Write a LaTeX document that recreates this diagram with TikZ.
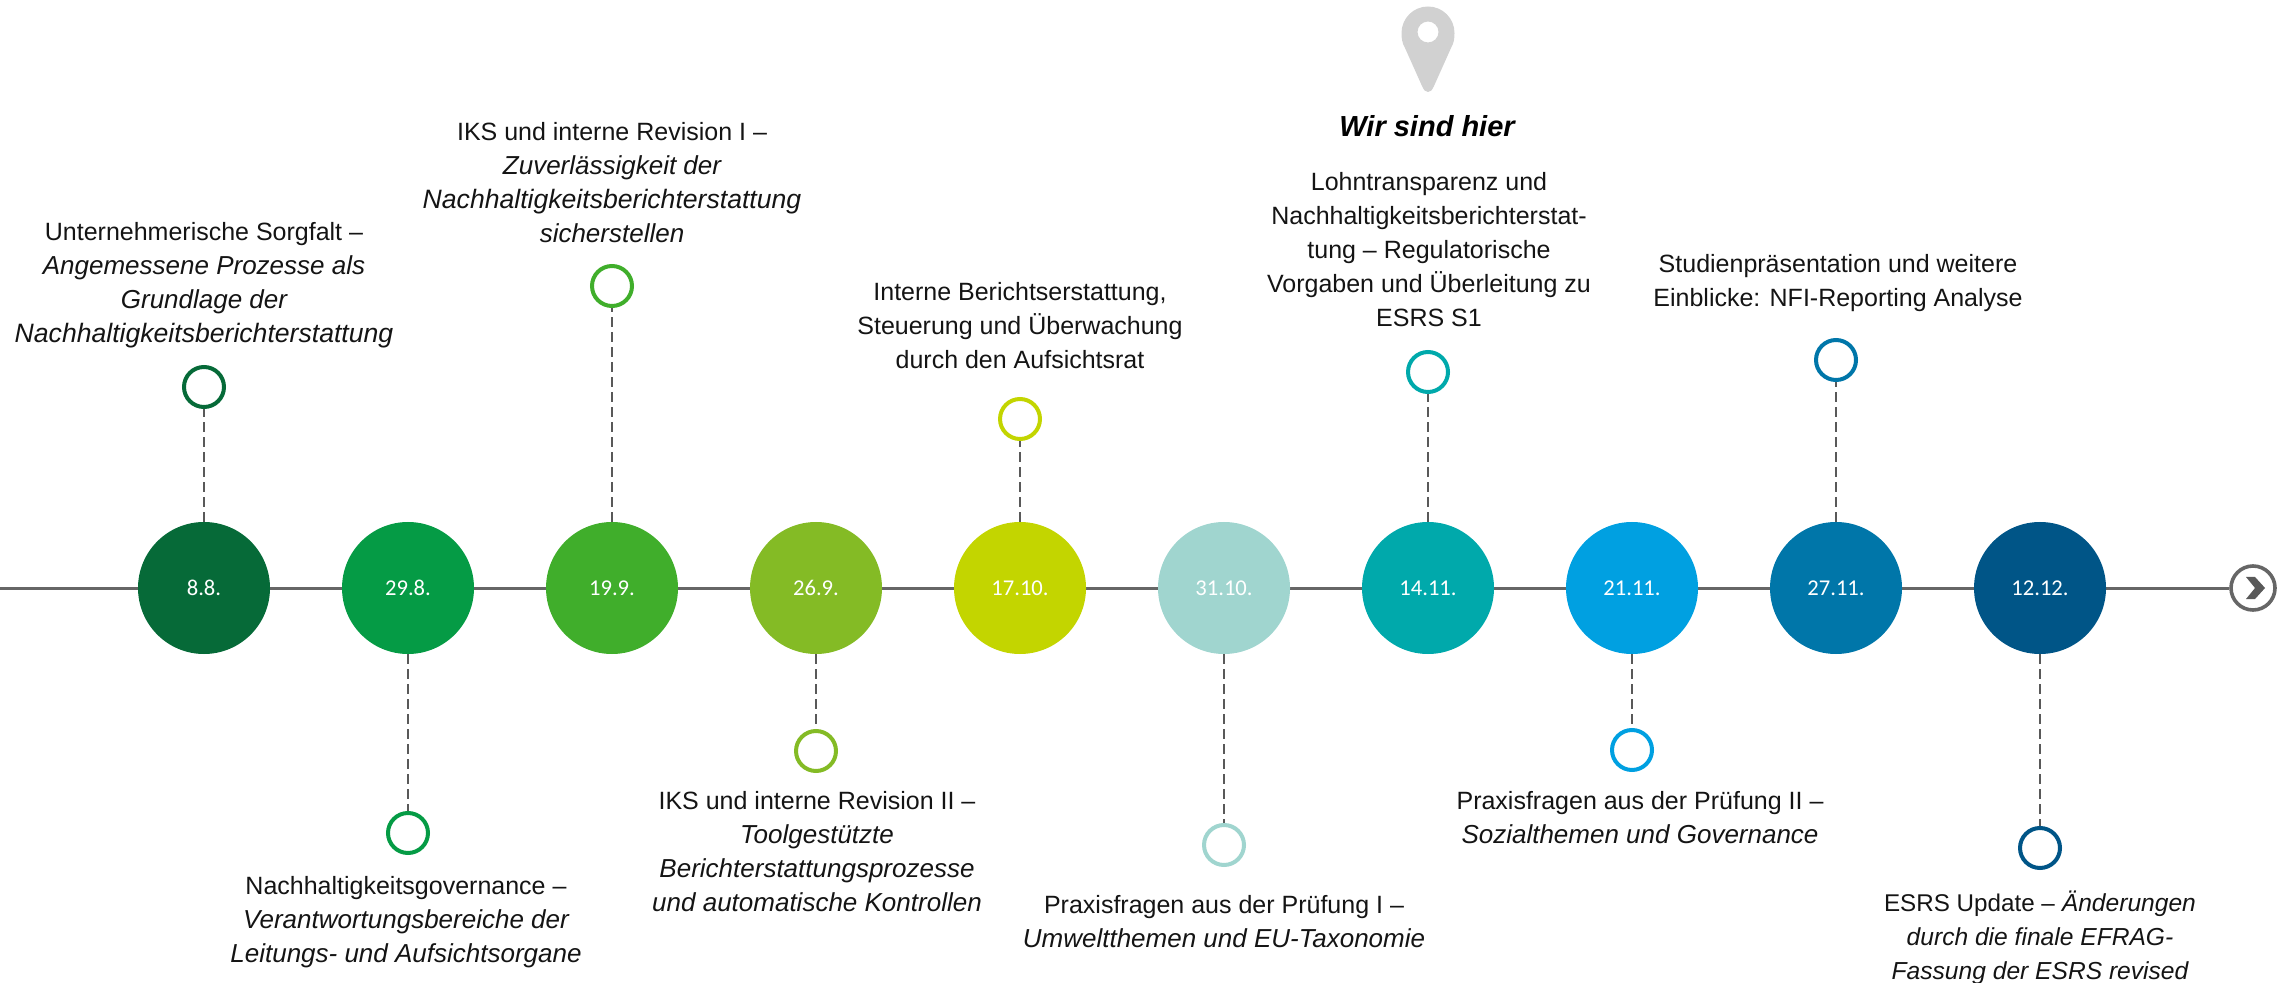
\documentclass[tikz,border=0pt]{standalone}
\usepackage{fontspec}
\setmainfont{Liberation Sans}
\newfontfamily\datefont{Carlito}
\definecolor{c1}{HTML}{066A38}
\definecolor{c2}{HTML}{059B45}
\definecolor{c3}{HTML}{40AE2B}
\definecolor{c4}{HTML}{84BB25}
\definecolor{c5}{HTML}{C3D500}
\definecolor{c6}{HTML}{A0D5CF}
\definecolor{c7}{HTML}{00A9AB}
\definecolor{c8}{HTML}{00A0E1}
\definecolor{c9}{HTML}{0076A9}
\definecolor{c10}{HTML}{005587}
\definecolor{linegray}{HTML}{666666}
\definecolor{stemgray}{HTML}{595959}
\newcommand{\il}[1]{{\fontsize{13}{17}\selectfont\itshape #1}}
\newcommand{\ill}[1]{{\fontsize{13.3}{17}\selectfont\itshape #1}}
\newcommand{\ils}[1]{{\fontsize{12.3}{17}\selectfont\itshape #1}}
\tikzset{
 bigdot/.style={circle,fill=#1,minimum size=66pt,inner sep=0pt,text=white,font=\datefont\fontsize{11.3}{13}\selectfont},
 smalldot/.style={circle,draw=#1,fill=white,line width=2pt,minimum size=20pt,inner sep=0pt},
 stem/.style={draw=stemgray,line width=1pt,dash pattern=on 5pt off 2.5pt},
 label/.style={align=center,inner sep=0pt,font=\fontsize{12.5}{17}\selectfont,text=black!92}
}
\begin{document}
\begin{tikzpicture}[x=0.5pt,y=-0.5pt]
\useasboundingbox (0,0) rectangle (2280,983);
\coordinate (start) at (0,588);
\node[circle,draw=linegray,line width=1.8pt,fill=white,minimum size=22pt,inner sep=0pt] (arrow) at (2253,588) {};
\draw[linegray,line width=1.5pt] (start) -- (arrow.west);
\fill[stemgray] (2246,577) -- (2255,577) -- (2265,588) -- (2255,599) -- (2246,599) -- (2255,588) -- cycle;
\foreach \i/\x/\d in {1/204/8.8.,2/408/29.8.,3/612/19.9.,4/816/26.9.,5/1020/17.10.,6/1224/31.10.,7/1428/14.11.,8/1632/21.11.,9/1836/27.11.,10/2040/12.12.}
  \node[bigdot=c\i] (d\i) at (\x,588) {\d};
\foreach \i/\x/\y in {1/204/387,2/408/833,3/612/286,4/816/751,5/1020/419,6/1224/845,7/1428/372,8/1632/750,9/1836/360,10/2040/848}{
  \node[smalldot=c\i] (s\i) at (\x,\y) {};
  \draw[stem] (d\i) -- (s\i);
}
\node[label] (t1) at (204,285) {Unternehmerische Sorgfalt –\\\il{Angemessene Prozesse als}\\\il{Grundlage der}\\\ill{Nachhaltigkeitsberichterstattung}};
\node[label] (t2) at (406,922) {Nachhaltigkeitsgovernance –\\\il{Verantwortungsbereiche der}\\\il{Leitungs- und Aufsichtsorgane}};
\node[label] (t3) at (612,183) {IKS und interne Revision I –\\\il{Zuverlässigkeit der}\\\ill{Nachhaltigkeitsberichterstattung}\\\il{sicherstellen}};
\node[label] (t4) at (817,852) {IKS und interne Revision II –\\\il{Toolgestützte}\\\il{Berichterstattungsprozesse}\\\il{und automatische Kontrollen}};
\node[label] (t5) at (1020,326) {Interne Berichtserstattung,\\Steuerung und Überwachung\\durch den Aufsichtsrat};
\node[label] (t6) at (1224,922) {Praxisfragen aus der Prüfung I –\\\il{Umweltthemen und EU-Taxonomie}};
\node[label] (t7) at (1429,250) {Lohntransparenz und\\Nachhaltigkeitsberichterstat-\\tung – Regulatorische\\Vorgaben und Überleitung zu\\ESRS S1};
\node[label] (t8) at (1640,818) {Praxisfragen aus der Prüfung II –\\\il{Sozialthemen und Governance}};
\node[label] (t9) at (1838,283) {Studienpräsentation und weitere\\Einblicke: NFI-Reporting Analyse};
\node[label] (t10) at (2040,938) {{\fontsize{12.1}{17}\selectfont ESRS Update –} \ils{Änderungen}\\\ils{durch die finale EFRAG-}\\\ils{Fassung der ESRS revised}};
\node[inner sep=0pt,font=\bfseries\itshape\fontsize{14.5}{16}\selectfont] (here) at (1427,126) {Wir sind hier};
\fill[even odd rule,fill=black!18] (1428,92) .. controls (1425,92) and (1424,90) .. (1422,86)
 -- (1405,48) .. controls (1402,43) and (1401.5,38) .. (1401.5,33)
 arc[start angle=180,end angle=360,radius=26.5]
 .. controls (1454.5,38) and (1454,43) .. (1451,48) -- (1434,86) .. controls (1432,90) and (1431,92) .. (1428,92) -- cycle
 (1438.5,32) arc[start angle=0,end angle=360,radius=10.5];
\end{tikzpicture}
\end{document}
